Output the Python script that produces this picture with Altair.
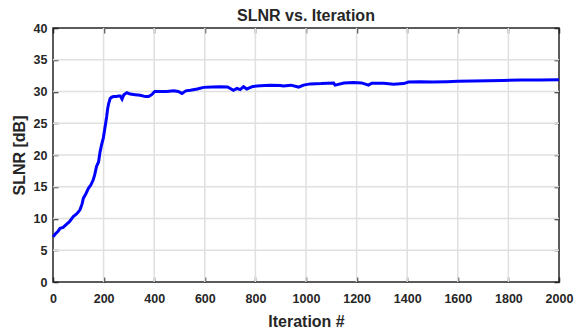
import altair as alt
import pandas as pd

iterations = [0, 10, 20, 28, 40, 54, 65, 80, 90, 100, 107, 115, 120, 130, 140, 150, 159, 165, 172, 180,
              186, 192, 199, 205, 212, 216, 220, 226, 232, 240, 250, 258, 266, 273, 280, 292, 305, 325, 345, 365,
              378, 390, 402, 420, 450, 477, 495, 510, 525, 543, 570, 595, 630, 661, 690, 713, 727, 740, 753, 766,
              790, 819, 859, 898, 911, 940, 971, 990, 1017, 1060, 1109, 1115, 1150, 1188, 1220, 1247, 1260, 1307,
              1346, 1386, 1405, 1452, 1500, 1557, 1600, 1662, 1720, 1780, 1850, 1920, 2000]
slnr_db = [7.1, 7.6, 8.0, 8.45, 8.6, 9.1, 9.5, 10.3, 10.6, 11.0, 11.4, 12.3, 13.2, 13.9, 14.75, 15.3, 16.1, 16.9, 18.2, 18.9,
           20.5, 21.6, 22.7, 24.2, 26.0, 27.3, 28.1, 28.9, 29.1, 29.2, 29.2, 29.3, 29.3, 28.8, 29.5, 29.8, 29.6, 29.5, 29.4, 29.2,
           29.2, 29.5, 30.0, 30.0, 30.0, 30.1, 30.0, 29.7, 30.1, 30.2, 30.4, 30.65, 30.7, 30.75, 30.7, 30.2, 30.5, 30.3, 30.75, 30.4,
           30.8, 30.9, 31.0, 30.95, 30.87, 31.0, 30.7, 31.0, 31.2, 31.25, 31.35, 31.0, 31.35, 31.4, 31.35, 31.0, 31.3, 31.3,
           31.15, 31.25, 31.5, 31.55, 31.5, 31.55, 31.6, 31.65, 31.7, 31.75, 31.8, 31.8, 31.85]

x_ticks = [0, 200, 400, 600, 800, 1000, 1200, 1400, 1600, 1800, 2000]
y_ticks = [0, 5, 10, 15, 20, 25, 30, 35, 40]
title_text = "SLNR vs. Iteration"

W, H = 506, 254
TXT = "#262626"
GRID = "#e0e0e0"
FONT = "Liberation Sans"
TL = 5  # inward tick length (px)

df = pd.DataFrame({"iter": iterations, "slnr": slnr_db})
gx_df = pd.DataFrame({"iter": x_ticks[1:-1]})
gy_df = pd.DataFrame({"slnr": y_ticks[1:-1]})

xscale = alt.Scale(domain=[0, 2000], nice=False)
yscale = alt.Scale(domain=[0, 40], nice=False)

common = dict(grid=False, domain=False, ticks=True, tickSize=TL, tickWidth=1.5, tickColor=TXT,
              labelFlush=False, labelOverlap=False, offset=-TL,
              labelFont=FONT, labelFontSize=12.5, labelFontWeight="bold", labelColor=TXT,
              titleFont=FONT, titleFontSize=16, titleFontWeight="bold", titleColor=TXT,
              format="d")

x_bottom = alt.Axis(orient="bottom", values=x_ticks, title="Iteration #", labelPadding=10,
                    titleBaseline="alphabetic", titleY=44 + TL, **common)
y_left = alt.Axis(orient="left", values=y_ticks, title="SLNR [dB]", labelPadding=6,
                  titleBaseline="alphabetic", titleAngle=270, titleX=-29 - TL, titleY=H / 2,
                  titleAlign="center", **common)
x_top = alt.Axis(orient="top", values=x_ticks, title=None, labels=False, **common)
y_right = alt.Axis(orient="right", values=y_ticks, title=None, labels=False, **common)

gx = alt.Chart(gx_df).mark_rule(color=GRID, strokeWidth=1.5).encode(
    x=alt.X("iter:Q", scale=xscale, axis=None), y=alt.value(0), y2=alt.value(H))
gy = alt.Chart(gy_df).mark_rule(color=GRID, strokeWidth=1.5).encode(
    y=alt.Y("slnr:Q", scale=yscale, axis=None), x=alt.value(0), x2=alt.value(W))

line = alt.Chart(df).mark_line(color="#0000ff", strokeWidth=3).encode(
    x=alt.X("iter:Q", scale=xscale, axis=x_bottom),
    y=alt.Y("slnr:Q", scale=yscale, axis=y_left),
)

box_ticks = alt.Chart(df).mark_line(opacity=0).encode(
    x=alt.X("iter:Q", scale=xscale, axis=x_top),
    y=alt.Y("slnr:Q", scale=yscale, axis=y_right),
)

title = alt.Chart(gx_df.head(1)).mark_text(
    font=FONT, fontSize=16, fontWeight="bold", color=TXT, align="center", baseline="alphabetic"
).encode(x=alt.value(W / 2), y=alt.value(-7), text=alt.value(title_text))

chart = alt.layer(gx, gy, line, box_ticks, title).resolve_axis(
    x="independent", y="independent"
).properties(
    width=W, height=H,
    autosize=alt.AutoSizeParams(type="none"),
    padding={"left": 53, "top": 28, "right": 15, "bottom": 46},
    background="white",
).configure_view(
    stroke=TXT, strokeWidth=1.5
)

chart.save("out.html", embed_options={"renderer": "svg", "actions": False})
